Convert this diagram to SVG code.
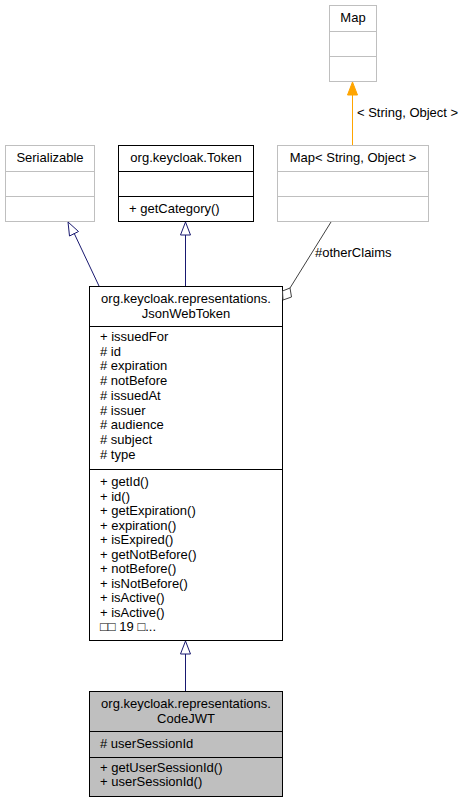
<svg xmlns="http://www.w3.org/2000/svg" width="467" height="803" viewBox="0 0 467 803">
<style>
text{font-family:"Liberation Sans",Arial,sans-serif;font-size:13px;fill:#000}
.c{text-anchor:middle}
.g{fill:#fff;stroke:#bfbfbf;stroke-width:1}
.b{fill:#fff;stroke:#000;stroke-width:1}
.s{fill:#bfbfbf;stroke:#000;stroke-width:1}
.lg{stroke:#bfbfbf;stroke-width:1}
.lb{stroke:#000;stroke-width:1}
.inh{stroke:#191970;stroke-width:1;fill:none}
</style>
<rect width="467" height="803" fill="#fff"/>
<g id="node-map">
<rect class="g" x="329.5" y="5.5" width="47" height="76"/>
<line class="lg" x1="329.5" y1="31.5" x2="376.5" y2="31.5"/>
<line class="lg" x1="329.5" y1="56.5" x2="376.5" y2="56.5"/>
<text class="c" x="353" y="22">Map</text>
</g>
<g id="node-serializable">
<rect class="g" x="5.5" y="145.5" width="89" height="76"/>
<line class="lg" x1="5.5" y1="171.5" x2="94.5" y2="171.5"/>
<line class="lg" x1="5.5" y1="196.5" x2="94.5" y2="196.5"/>
<text class="c" x="50" y="162">Serializable</text>
</g>
<g id="node-token">
<rect class="b" x="118.5" y="145.5" width="135" height="76"/>
<line class="lb" x1="118.5" y1="171.5" x2="253.5" y2="171.5"/>
<line class="lb" x1="118.5" y1="196.5" x2="253.5" y2="196.5"/>
<text class="c" x="186" y="162">org.keycloak.Token</text>
<text x="129" y="213">+ getCategory()</text>
</g>
<g id="node-mapso">
<rect class="g" x="277.5" y="145.5" width="151" height="76"/>
<line class="lg" x1="277.5" y1="171.5" x2="428.5" y2="171.5"/>
<line class="lg" x1="277.5" y1="196.5" x2="428.5" y2="196.5"/>
<text class="c" x="353" y="162">Map&lt; String, Object &gt;</text>
</g>
<g id="node-jwt">
<rect class="b" x="89.5" y="286.5" width="193" height="354"/>
<line class="lb" x1="89.5" y1="326.5" x2="282.5" y2="326.5"/>
<line class="lb" x1="89.5" y1="469.5" x2="282.5" y2="469.5"/>
<text class="c" x="186" y="303">org.keycloak.representations.</text>
<text class="c" x="186" y="318">JsonWebToken</text>
<text x="100" y="341">+ issuedFor</text>
<text x="100" y="355.7"># id</text>
<text x="100" y="370.4"># expiration</text>
<text x="100" y="385.1"># notBefore</text>
<text x="100" y="399.8"># issuedAt</text>
<text x="100" y="414.5"># issuer</text>
<text x="100" y="429.2"># audience</text>
<text x="100" y="443.9"># subject</text>
<text x="100" y="458.6"># type</text>
<text x="100" y="486">+ getId()</text>
<text x="100" y="500.5">+ id()</text>
<text x="100" y="515">+ getExpiration()</text>
<text x="100" y="529.5">+ expiration()</text>
<text x="100" y="544">+ isExpired()</text>
<text x="100" y="558.5">+ getNotBefore()</text>
<text x="100" y="573">+ notBefore()</text>
<text x="100" y="587.5">+ isNotBefore()</text>
<text x="100" y="602">+ isActive()</text>
<text x="100" y="616.5">+ isActive()</text>
<text x="100" y="631">□□ 19 □...</text>
</g>
<g id="node-codejwt">
<rect class="s" x="89.5" y="691.5" width="193" height="105"/>
<line class="lb" x1="89.5" y1="731.5" x2="282.5" y2="731.5"/>
<line class="lb" x1="89.5" y1="757.5" x2="282.5" y2="757.5"/>
<text class="c" x="186" y="708">org.keycloak.representations.</text>
<text class="c" x="186" y="723">CodeJWT</text>
<text x="100" y="748"># userSessionId</text>
<text x="100" y="772">+ getUserSessionId()</text>
<text x="100" y="786">+ userSessionId()</text>
</g>
<g id="connectors">
<line x1="352.5" y1="145" x2="352.5" y2="95" stroke="#ffa500" stroke-width="1"/>
<polygon points="352.5,82 347.5,95 357.5,95" fill="#ffa500" stroke="#ffa500"/>
<text x="357" y="117">&lt; String, Object &gt;</text>
<line class="inh" x1="185.5" y1="286" x2="185.5" y2="235"/>
<polygon points="185.5,222 180.5,235 190.5,235" class="inh" fill="#fff"/>
<line class="inh" x1="99" y1="286" x2="74" y2="233"/>
<polygon points="68,222 69.5,236 78.5,231.5" class="inh" fill="#fff"/>
<line class="inh" x1="185.5" y1="691" x2="185.5" y2="654"/>
<polygon points="185.5,641 180.5,654 190.5,654" class="inh" fill="#fff"/>
<line x1="331" y1="222" x2="290" y2="288" stroke="#404040" stroke-width="1"/>
<polygon points="283,300 282.5,291 290,288 291.5,297" fill="#fff" stroke="#404040" stroke-width="1"/>
<text x="315" y="257">#otherClaims</text>
</g>
</svg>
